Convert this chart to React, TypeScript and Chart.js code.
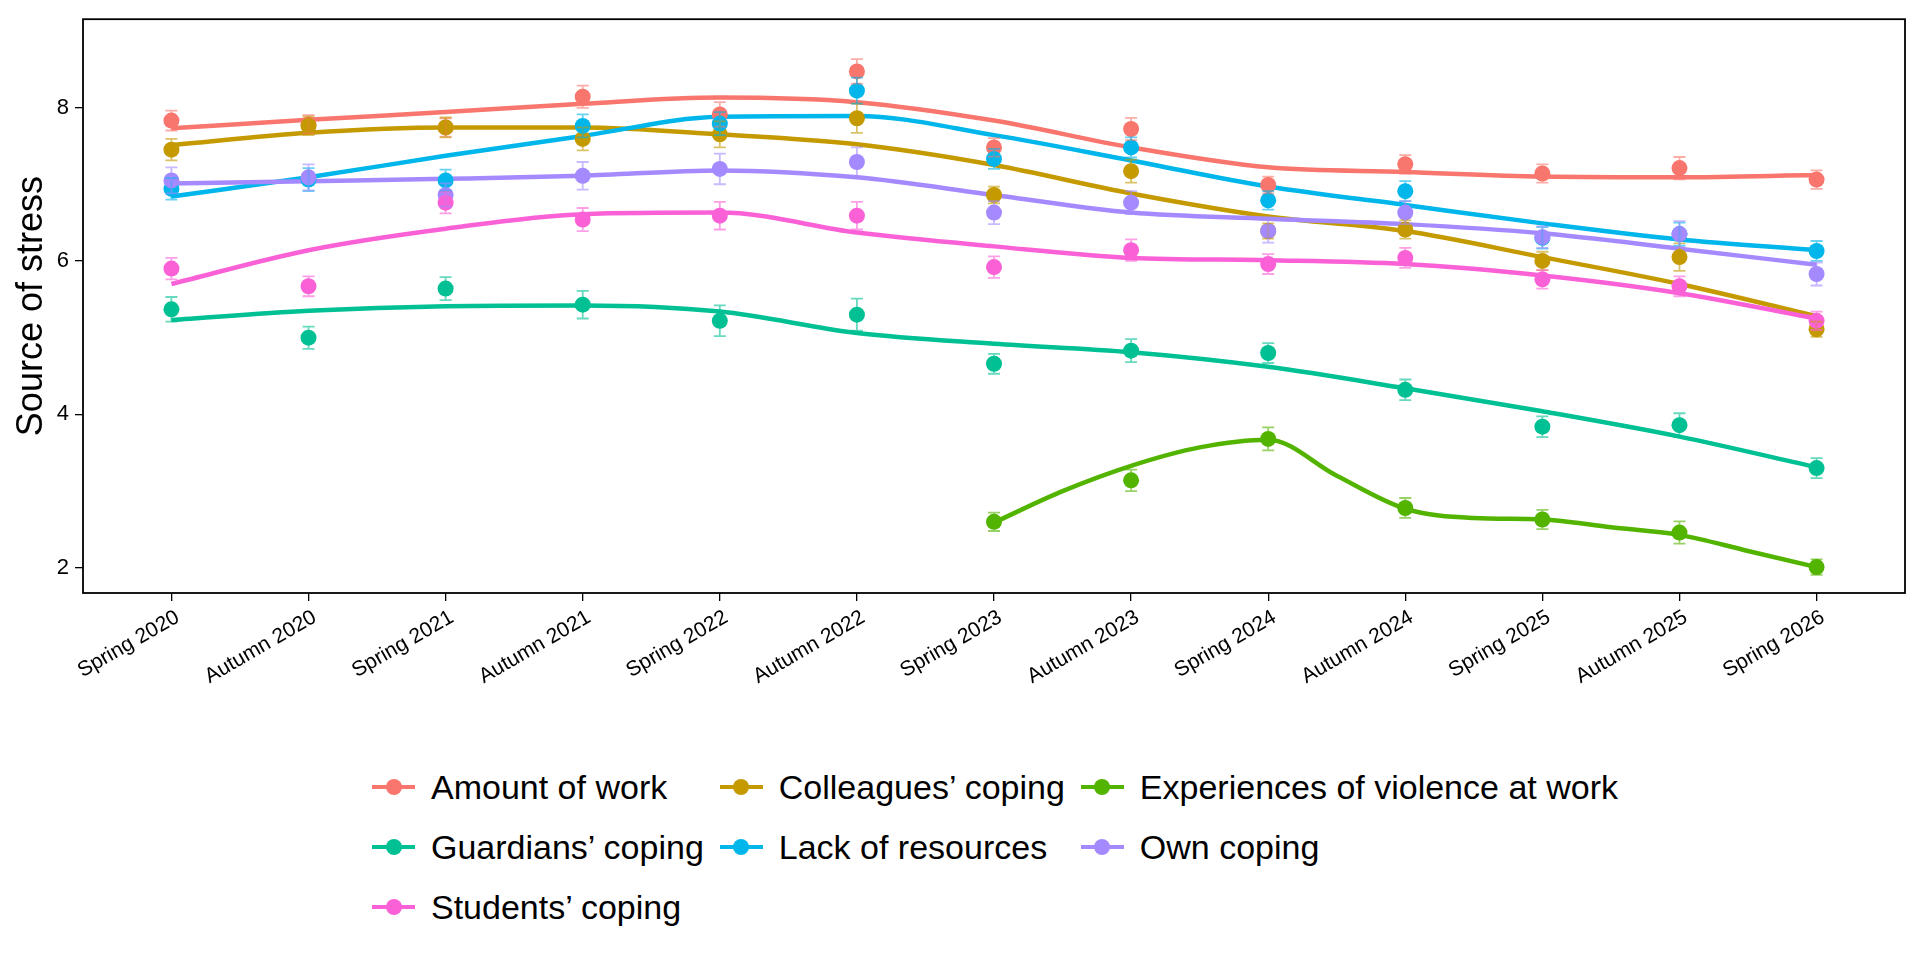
import { useEffect, useRef } from "react";
import { Chart, registerables } from "chart.js";
import type { Plugin } from "chart.js";

Chart.register(...registerables);

const waves = [
  "Spring 2020", "Autumn 2020", "Spring 2021", "Autumn 2021", "Spring 2022", "Autumn 2022", "Spring 2023",
  "Autumn 2023", "Spring 2024", "Autumn 2024", "Spring 2025", "Autumn 2025", "Spring 2026",
];
const seriesNames = [
  "Amount of work", "Colleagues’ coping", "Experiences of violence at work", "Guardians’ coping",
  "Lack of resources", "Own coping", "Students’ coping",
];
const seriesColors = ["#F8766D", "#C49A00", "#53B400", "#00C094", "#00B6EB", "#A58AFF", "#FB61D7"];
const yTicks = [2, 4, 6, 8];

// means, error bar half-widths and the smoothed curve for each source of stress
const amountOfWork = [7.83, 7.78, 7.74, 8.14, 7.91, 8.47, 7.48, 7.72, 6.99, 7.26, 7.14, 7.21, 7.06];
const amountOfWorkErr = [0.13, 0.12, 0.12, 0.145, 0.16, 0.16, 0.12, 0.145, 0.11, 0.12, 0.12, 0.145, 0.12];
const amountOfWorkSmooth = [7.73, 7.84, 7.94, 8.05, 8.13, 8.07, 7.83, 7.48, 7.22, 7.16, 7.1, 7.09, 7.12];

const colleagues = [7.45, 7.76, 7.74, 7.59, 7.65, 7.86, 6.86, 7.17, 6.39, 6.41, 6.0, 6.05, 5.11];
const colleaguesErr = [0.14, 0.12, 0.13, 0.15, 0.17, 0.19, 0.11, 0.15, 0.1, 0.12, 0.12, 0.18, 0.1];
const colleaguesSmooth = [7.51, 7.67, 7.74, 7.74, 7.65, 7.52, 7.25, 6.88, 6.58, 6.39, 6.05, 5.7, 5.28];

const violence = [null, null, null, null, null, null, 2.6, 3.14, 3.68, 2.78, 2.63, 2.46, 2.01];
const violenceErr = [null, null, null, null, null, null, 0.12, 0.14, 0.15, 0.13, 0.125, 0.145, 0.1];
const violenceSmoothX = [6, 6.5, 7, 7.5, 8, 8.5, 9, 9.5, 10, 10.5, 11, 11.5, 12];
const violenceSmooth = [2.59, 3.0, 3.33, 3.57, 3.67, 3.2, 2.77, 2.65, 2.63, 2.53, 2.43, 2.22, 2.01];

const guardians = [5.37, 5.0, 5.64, 5.43, 5.22, 5.3, 4.66, 4.83, 4.8, 4.32, 3.84, 3.86, 3.3];
const guardiansErr = [0.16, 0.145, 0.15, 0.18, 0.2, 0.21, 0.13, 0.15, 0.13, 0.135, 0.135, 0.155, 0.13];
const guardiansSmooth = [5.23, 5.35, 5.41, 5.42, 5.34, 5.06, 4.92, 4.81, 4.62, 4.34, 4.04, 3.71, 3.31];

const resources = [6.94, 7.06, 7.05, 7.76, 7.79, 8.22, 7.33, 7.48, 6.79, 6.91, 6.3, 6.35, 6.13];
const resourcesErr = [0.14, 0.15, 0.14, 0.15, 0.15, 0.17, 0.13, 0.13, 0.12, 0.13, 0.14, 0.15, 0.13];
const resourcesSmooth = [6.84, 7.09, 7.37, 7.63, 7.88, 7.89, 7.64, 7.31, 6.97, 6.73, 6.49, 6.28, 6.14];

const ownCoping = [7.05, 7.09, 6.86, 7.11, 7.2, 7.29, 6.63, 6.76, 6.39, 6.63, 6.31, 6.35, 5.83];
const ownCopingErr = [0.17, 0.17, 0.15, 0.18, 0.2, 0.19, 0.15, 0.15, 0.15, 0.15, 0.14, 0.17, 0.15];
const ownCopingSmooth = [7.01, 7.04, 7.07, 7.11, 7.18, 7.09, 6.86, 6.63, 6.55, 6.48, 6.36, 6.16, 5.95];

const students = [5.9, 5.67, 6.76, 6.54, 6.59, 6.59, 5.92, 6.14, 5.96, 6.04, 5.76, 5.67, 5.22];
const studentsErr = [0.14, 0.13, 0.14, 0.15, 0.18, 0.18, 0.14, 0.14, 0.13, 0.13, 0.12, 0.13, 0.12];
const studentsSmooth = [5.7, 6.14, 6.42, 6.61, 6.63, 6.37, 6.19, 6.04, 6.01, 5.96, 5.81, 5.58, 5.25];

const waveIndex = waves.map((_, i) => i);

const series = [
  { mean: amountOfWork, err: amountOfWorkErr, smooth: amountOfWorkSmooth, smoothX: waveIndex },
  { mean: colleagues, err: colleaguesErr, smooth: colleaguesSmooth, smoothX: waveIndex },
  { mean: violence, err: violenceErr, smooth: violenceSmooth, smoothX: violenceSmoothX },
  { mean: guardians, err: guardiansErr, smooth: guardiansSmooth, smoothX: waveIndex },
  { mean: resources, err: resourcesErr, smooth: resourcesSmooth, smoothX: waveIndex },
  { mean: ownCoping, err: ownCopingErr, smooth: ownCopingSmooth, smoothX: waveIndex },
  { mean: students, err: studentsErr, smooth: studentsSmooth, smoothX: waveIndex },
];

const FONT = '"Liberation Sans", Arial, sans-serif';

function withAlpha(hex: string, a: number) {
  const n = parseInt(hex.slice(1), 16);
  return `rgba(${(n >> 16) & 255}, ${(n >> 8) & 255}, ${n & 255}, ${a})`;
}

const errorBarsAndFrame: Plugin<"line"> = {
  id: "errorBarsAndFrame",
  afterDatasetsDraw(chart) {
    const { ctx, chartArea: a } = chart;
    const x = chart.scales.x;
    const y = chart.scales.y;
    ctx.save();
    ctx.lineWidth = 1.8;
    series.forEach((s, k) => {
      ctx.strokeStyle = withAlpha(seriesColors[k], 0.6);
      s.mean.forEach((m, i) => {
        const e = s.err[i];
        if (m == null || e == null) return;
        const px = x.getPixelForValue(i);
        const top = y.getPixelForValue(m + e);
        const bottom = y.getPixelForValue(m - e);
        ctx.beginPath();
        ctx.moveTo(px, top);
        ctx.lineTo(px, bottom);
        ctx.moveTo(px - 6, top);
        ctx.lineTo(px + 6, top);
        ctx.moveTo(px - 6, bottom);
        ctx.lineTo(px + 6, bottom);
        ctx.stroke();
      });
    });
    ctx.strokeStyle = "#000";
    ctx.lineWidth = 1.8;
    ctx.strokeRect(a.left, a.top, a.right - a.left, a.bottom - a.top);
    ctx.restore();
  },
};

function StressChart() {
  const canvasRef = useRef<HTMLCanvasElement>(null);

  useEffect(() => {
    const canvas = canvasRef.current;
    if (!canvas) return;

    const lines = series.map((s, k) => ({
      type: "line" as const,
      label: seriesNames[k],
      data: s.smoothX.map((xv, i) => ({ x: xv, y: s.smooth[i] })),
      borderColor: seriesColors[k],
      borderWidth: 4.5,
      pointRadius: 0,
      cubicInterpolationMode: "monotone" as const,
      fill: false,
      order: 30 - k,
    }));
    const points = series.map((s, k) => ({
      type: "line" as const,
      label: seriesNames[k] + " mean",
      data: s.mean.map((v, i) => ({ x: i, y: v })).filter((p) => p.y != null),
      showLine: false,
      pointRadius: 8,
      pointBorderWidth: 0,
      pointBackgroundColor: seriesColors[k],
      borderColor: seriesColors[k],
      order: 10 - k,
    }));

    const chart = new Chart(canvas, {
      type: "line",
      data: { datasets: [...lines, ...points] as any },
      plugins: [errorBarsAndFrame],
      options: {
        animation: false,
        responsive: true,
        maintainAspectRatio: false,
        devicePixelRatio: 1,
        layout: { padding: { top: 14, right: 15, left: 0, bottom: 0 } },
        plugins: { legend: { display: false }, tooltip: { enabled: false } },
        scales: {
          x: {
            type: "linear",
            min: -0.645,
            max: 12.645,
            afterBuildTicks: (scale) => {
              scale.ticks = waveIndex.map((v) => ({ value: v }));
            },
            afterFit: (scale) => {
              scale.height = 107;
            },
            ticks: {
              autoSkip: false,
              minRotation: 30,
              maxRotation: 30,
              padding: 4,
              color: "#000",
              font: { size: 21, family: FONT },
              // a transparent backdrop keeps the label's end anchored on the tick
              showLabelBackdrop: true,
              backdropColor: "rgba(0,0,0,0)",
              backdropPadding: 0,
              callback: (value) => waves[Number(value)] ?? "",
            },
            grid: { drawOnChartArea: false, drawTicks: true, tickLength: 8, color: "#000", lineWidth: 1.3 },
            border: { display: false },
          },
          y: {
            type: "linear",
            min: 1.672,
            max: 9.151,
            afterBuildTicks: (scale) => {
              scale.ticks = yTicks.map((v) => ({ value: v }));
            },
            afterFit: (scale) => {
              scale.width = 83;
            },
            ticks: {
              padding: 6,
              color: "#000",
              font: { size: 22, family: FONT },
            },
            grid: { drawOnChartArea: false, drawTicks: true, tickLength: 8, color: "#000", lineWidth: 1.3 },
            border: { display: false },
            title: {
              display: true,
              text: "Source of stress",
              color: "#000",
              font: { size: 36, family: FONT },
              padding: { top: 10, bottom: 0 },
            },
          },
        },
      },
    });

    return () => chart.destroy();
  }, []);

  return (
    <div style={{ position: "absolute", left: 0, top: 0, width: 1920, height: 700 }}>
      <canvas ref={canvasRef} />
    </div>
  );
}

function LegendKey({ color }: { color: string }) {
  return (
    <div style={{ position: "relative", width: 43, height: 60, flex: "none" }}>
      <div style={{ position: "absolute", left: 0, top: 28, width: 43, height: 4, background: color }} />
      <div
        style={{
          position: "absolute",
          left: 13.5,
          top: 22,
          width: 16,
          height: 16,
          borderRadius: "50%",
          background: color,
        }}
      />
    </div>
  );
}

export default function App() {
  return (
    <div style={{ position: "absolute", left: 0, top: 0, width: 1920, height: 960, background: "#fff", overflow: "hidden" }}>
      <StressChart />
      <div
        style={{
          position: "absolute",
          left: 372,
          top: 757,
          display: "grid",
          gridTemplateColumns: "repeat(3, auto)",
          gridAutoRows: "60px",
          columnGap: 16,
          fontFamily: FONT,
          fontSize: 34,
          color: "#000",
        }}
      >
        {seriesNames.map((name, k) => (
          <div key={name} style={{ display: "flex", alignItems: "center", height: 60 }}>
            <LegendKey color={seriesColors[k]} />
            <span style={{ marginLeft: 16, whiteSpace: "nowrap", lineHeight: "60px" }}>{name}</span>
          </div>
        ))}
      </div>
    </div>
  );
}
